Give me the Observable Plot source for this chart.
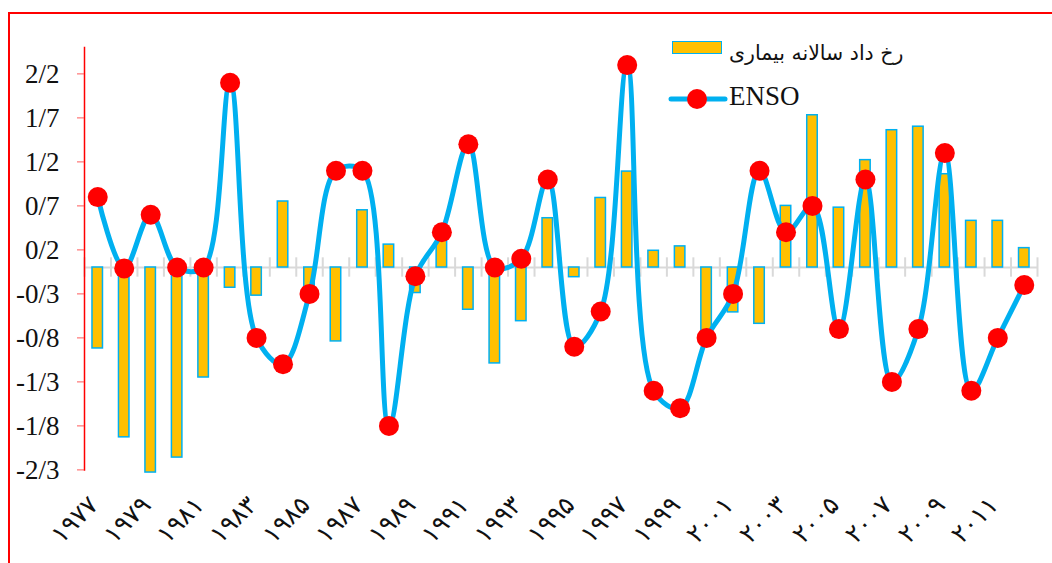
<!DOCTYPE html>
<html>
<head>
<meta charset="utf-8">
<script src="https://cdn.jsdelivr.net/npm/d3@7"></script>
<script src="https://cdn.jsdelivr.net/npm/@observablehq/plot@0.6"></script>
<style>
  html, body { margin: 0; padding: 0; background: #fff; }
  #wrap { position: relative; width: 1052px; height: 563px; overflow: hidden; }
  #chart { position: absolute; left: 0; top: 0; }
  #border { position: absolute; left: 8px; top: 12px; width: 1100px; height: 600px;
            border-top: 2px solid #ff0000; border-left: 2px solid #ff0000; pointer-events: none; }
  .leg { position: absolute; white-space: nowrap; color: #111; }
</style>
</head>
<body>
<div id="wrap">
  <div id="chart"></div>
  <div id="border"></div>
  <div class="leg" style="left:672px;top:41px;width:48px;height:11px;background:#FFC000;border:1.5px solid #00B0F0;"></div>
  <div class="leg" id="legBarText" style="left:729px;top:41px;font-family:'DejaVu Sans';font-size:20.5px;direction:rtl;"></div>
  <svg class="leg" style="left:668px;top:88px;" width="60" height="22">
    <line x1="3" y1="11" x2="57" y2="11" stroke="#00B0F0" stroke-width="5" stroke-linecap="round"></line>
    <circle cx="29" cy="11" r="10" fill="#FF0000"></circle>
  </svg>
  <div class="leg" id="legLineText" style="left:729px;top:81px;font-family:'Liberation Serif';font-size:27px;"></div>
</div>
<script>
// ---- data ----
const years = [1977,1978,1979,1980,1981,1982,1983,1984,1985,1986,1987,1988,1989,1990,1991,1992,1993,1994,
               1995,1996,1997,1998,1999,2000,2001,2002,2003,2004,2005,2006,2007,2008,2009,2010,2011,2012];
const incidence = [-0.92,-1.93,-2.33,-2.16,-1.25,-0.23,-0.32,0.75,-0.28,-0.84,0.65,0.26,-0.29,0.34,-0.48,-1.09,-0.61,0.56,
                   -0.11,0.79,1.09,0.19,0.24,-0.72,-0.51,-0.64,0.70,1.73,0.68,1.22,1.56,1.60,1.06,0.53,0.53,0.22];
const enso = [0.8,-0.01,0.6,0.0,0.0,2.1,-0.8,-1.1,-0.3,1.1,1.1,-1.8,-0.1,0.4,1.4,0.0,0.1,1.0,
              -0.9,-0.5,2.3,-1.4,-1.6,-0.8,-0.3,1.1,0.4,0.7,-0.7,1.0,-1.3,-0.7,1.3,-1.4,-0.8,-0.2];
const yTicks = [-2.3,-1.8,-1.3,-0.8,-0.3,0.2,0.7,1.2,1.7,2.2];
const xTickYears = [1977,1979,1981,1983,1985,1987,1989,1991,1993,1995,1997,1999,2001,2003,2005,2007,2009,2011];
const barLabel = "رخ داد سالانه بیماری";
const lineLabel = "ENSO";

document.getElementById("legBarText").textContent = barLabel;
document.getElementById("legLineText").textContent = lineLabel;

const rows = years.map((y, i) => ({year: y, inc: incidence[i], enso: enso[i]}));
const faDigits = "۰۱۲۳۴۵۶۷۸۹";
const toFa = d => String(d).replace(/\d/g, c => faDigits[+c]);
const fmtY = d => (d < 0 ? "-" : "") + Math.abs(d).toFixed(1).replace(".", "/");

const W = 1052, H = 563, mL = 84, mR = 15, mT = 47, mB = 93.6;
const step = (W - mL - mR) / years.length;
const barInset = (step - 10.5) / 2;

const plot = Plot.plot({
  width: W, height: H,
  marginLeft: mL, marginRight: mR, marginTop: mT, marginBottom: mB,
  style: {background: "transparent", fontFamily: "Liberation Serif"},
  x: {type: "band", domain: years, padding: 0, round: false, axis: null},
  y: {domain: [-2.3, 2.5], axis: null},
  marks: [
    Plot.ruleY([0], {stroke: "#d9d9d9", strokeWidth: 2}),
    Plot.ruleX(years, {x: d => d, dx: -step / 2, y1: -0.11, y2: 0.11, stroke: "#d9d9d9", strokeWidth: 2}),
    Plot.ruleX([years[years.length - 1]], {x: d => d, dx: step / 2, y1: -0.11, y2: 0.11, stroke: "#d9d9d9", strokeWidth: 2}),
    Plot.frame({anchor: "left", stroke: "#ff0000", strokeWidth: 1.5}),
    Plot.axisY({ticks: yTicks, tickFormat: fmtY, tickSize: 7, tickPadding: 18, stroke: "#ff5a5a",
                fill: "#111", fontSize: 27, fontFamily: "Liberation Serif", label: null}),
    Plot.barY(rows, {x: "year", y: "inc", insetLeft: barInset, insetRight: barInset,
                     fill: "#FFC000", stroke: "#00B0F0", strokeWidth: 1.5}),
    Plot.line(rows, {x: "year", y: "enso", curve: "catmull-rom", stroke: "#00B0F0", strokeWidth: 5}),
    Plot.dot(rows, {x: "year", y: "enso", r: 10, fill: "#FF0000"}),
    Plot.text(xTickYears, {x: d => d, y: -2.3, text: d => toFa(d), rotate: -45, textAnchor: "end",
                           lineAnchor: "middle", dx: -4, dy: 31, fontSize: 25, fontFamily: "DejaVu Sans", fill: "#111"})
  ]
});
document.getElementById("chart").appendChild(plot);
</script>
</body>
</html>
